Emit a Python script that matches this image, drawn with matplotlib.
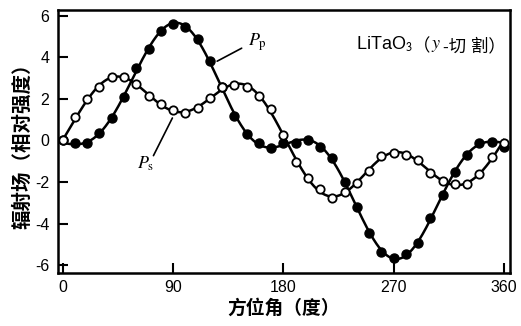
import numpy as np
import matplotlib
matplotlib.use("Agg")
import matplotlib.pyplot as plt

plt.rcParams['font.family'] = ['Liberation Sans', 'Noto Sans CJK SC', 'DejaVu Sans']
plt.rcParams['axes.unicode_minus'] = False
plt.rcParams['mathtext.fontset'] = 'stix'

# --- data ---
angle = np.arange(0, 361, 10)

# P_p, filled dots
pp_vals = [0.02, -0.10, -0.13, 0.35, 1.10, 2.10, 3.47, 4.38, 5.28, 5.60,
           5.44, 4.90, 3.82, 2.56, 1.18, 0.30, -0.13, -0.35, -0.10, -0.10,
           0.00, -0.33, -0.86, -1.98, -3.18, -4.43, -5.35, -5.66, -5.46, -4.94,
           -3.74, -2.62, -1.50, -0.70, -0.13, -0.06, -0.30]

# P_s, open circles
ps_vals = [0.00, 1.12, 1.98, 2.56, 3.07, 3.04, 2.72, 2.14, 1.75, 1.47,
           1.34, 1.55, 2.03, 2.56, 2.67, 2.56, 2.14, 1.50, 0.26, -1.02,
           -1.82, -2.35, -2.78, -2.46, -2.06, -1.45, -0.75, -0.59, -0.70, -0.94,
           -1.58, -1.93, -2.09, -2.09, -1.61, -0.81, -0.10]

xticks = [0, 90, 180, 270, 360]
yticks = [-6, -4, -2, 0, 2, 4, 6]


def fourier_fit(x_deg, vals, n_harm, x_out):
    # least-squares periodic fit, used for the smooth curve through the dots
    th = np.deg2rad(x_deg)
    th_out = np.deg2rad(x_out)
    cols, cols_out = [np.ones_like(th)], [np.ones_like(th_out)]
    for k in range(1, n_harm + 1):
        cols += [np.cos(k * th), np.sin(k * th)]
        cols_out += [np.cos(k * th_out), np.sin(k * th_out)]
    coef = np.linalg.lstsq(np.column_stack(cols), np.asarray(vals), rcond=None)[0]
    return np.column_stack(cols_out) @ coef


fine = np.linspace(0, 360, 721)
pp_curve = fourier_fit(angle, pp_vals, 5, fine)
ps_curve = fourier_fit(angle, ps_vals, 6, fine)

fig = plt.figure(figsize=(5.21, 3.26), dpi=100)
ax = fig.add_axes([0.111, 0.163, 0.868, 0.806])

ax.plot(fine, pp_curve, color='black', lw=1.8, zorder=2)
ax.plot(fine, ps_curve, color='black', lw=1.8, zorder=2)
ax.plot(angle, pp_vals, 'o', color='black', ms=6.5, zorder=3)
ax.plot(angle, ps_vals, 'o', mfc='white', mec='black', mew=1.3, ms=6.0, zorder=3)

ax.set_xlim(-4, 365)
ax.set_ylim(-6.37, 6.27)
ax.set_xticks(xticks)
ax.set_yticks(yticks)
ax.tick_params(direction='in', length=7, width=1.5, labelsize=11.5, pad=5)
ax.tick_params(axis='y', pad=6)
for s in ax.spines.values():
    s.set_linewidth(1.8)

# labels on the curves
ax.annotate('', xy=(124, 3.75), xytext=(148, 4.5),
            arrowprops=dict(arrowstyle='-', color='black', lw=1.2))
ax.text(151, 4.75, r'$P_{\rm p}$', fontsize=13, ha='left', va='center')
ax.annotate('', xy=(90.5, 1.2), xytext=(73, -0.85),
            arrowprops=dict(arrowstyle='-', color='black', lw=1.2))
ax.text(75, -1.1, r'$P_{\rm s}$', fontsize=13, ha='right', va='center')

# sample label, pieces chained one after the other
t1 = ax.text(239, 4.35, r'LiTaO$_{\mathsf{3}}$', fontsize=13, ha='left', va='baseline')
t2 = ax.annotate('（', xy=(1, 0), xycoords=t1, fontsize=12.5, ha='left', va='bottom')
t3 = ax.annotate(r'$y$', xy=(1, 0), xycoords=t2, xytext=(1, 0), textcoords='offset points',
                 fontsize=13, ha='left', va='bottom')
t4 = ax.annotate('-切 割）', xy=(1, 0), xycoords=t3, xytext=(1, 0), textcoords='offset points',
                 fontsize=12.5, ha='left', va='bottom')

ax.set_xlabel('方位角（度）', fontsize=13.5, fontweight='bold', labelpad=3)
ax.set_ylabel('辐射场（相对强度）', fontsize=14, fontweight='bold', labelpad=2)

fig.savefig('out.png', dpi=100)
